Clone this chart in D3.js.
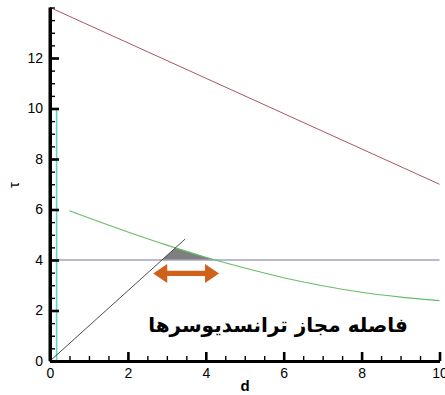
<!DOCTYPE html>
<html>
<head>
<meta charset="utf-8">
<script src="https://cdn.jsdelivr.net/npm/d3@7"></script>
<style>
  html, body { margin: 0; padding: 0; background: #fff; }
  svg { display: block; }
  .tick text { font-family: Arial, "Liberation Sans", sans-serif; }
</style>
</head>
<body>
<svg id="chart" width="445" height="395"></svg>
<script>
// Tick values
const xMajorTicks = [0, 2, 4, 6, 8, 10];
const yMajorTicks = [0, 2, 4, 6, 8, 10, 12];

// Upper limit line (linear decrease)
const upperLine = [[0, 14], [10, 7]];
// Decaying curve
const curveX = [0.5, 1, 2, 3, 4, 5, 6, 7, 8, 9, 10];
const curveY = [5.95, 5.66, 5.11, 4.59, 4.11, 3.68, 3.30, 2.98, 2.72, 2.53, 2.39];
// Threshold level
const threshold = 4;
// Rising line from origin
const risingLine = [[0, 0], [3.47, 4.83]];
// Vertical marker near the y axis
const markerX = 0.17;
const markerTop = 10;
// Double arrow span
const arrowSpan = [2.65, 4.34];
const arrowLevel = 3.47;
const caption = "فاصله مجاز ترانسدیوسرها";

const svg = d3.select("#chart");
const x = d3.scaleLinear().domain([0, 10]).range([50, 439.5]);
const y = d3.scaleLinear().domain([0, 14]).range([361, 7.5]);

const line = d3.line().x(d => x(d[0])).y(d => y(d[1]));
const curvePts = curveX.map((v, i) => [v, curveY[i]]);

// linear interpolation on the curve
function g(v) {
  for (let i = 0; i < curveX.length - 1; i++) {
    if (v >= curveX[i] && v <= curveX[i + 1]) {
      const t = (v - curveX[i]) / (curveX[i + 1] - curveX[i]);
      return curveY[i] + t * (curveY[i + 1] - curveY[i]);
    }
  }
  return curveY[curveY.length - 1];
}
function bisect(f, a, b) {
  for (let k = 0; k < 60; k++) {
    const m = (a + b) / 2;
    if (f(a) * f(m) <= 0) b = m; else a = m;
  }
  return (a + b) / 2;
}
const slope = risingLine[1][1] / risingLine[1][0];
const xi = bisect(v => slope * v - g(v), 1, risingLine[1][0]);
const xc = bisect(v => g(v) - threshold, 3, 6);
const xl = threshold / slope;

// shaded region between rising line, curve and threshold
const poly = [[xl, threshold], [xi, slope * xi]];
curveX.forEach((v, i) => { if (v > xi && v < xc) poly.push([v, curveY[i]]); });
poly.push([xc, threshold]);
svg.append("path")
  .attr("d", line(poly) + "Z")
  .attr("fill", "#7f7f7f");

// threshold line
svg.append("path")
  .attr("d", line([[0, threshold], [10, threshold]]))
  .attr("stroke", "#a6a2bd").attr("stroke-width", 1.6).attr("fill", "none");

// vertical marker
svg.append("path")
  .attr("d", line([[markerX, 0], [markerX, markerTop]]))
  .attr("stroke", "#5ed6cf").attr("stroke-width", 1.6).attr("fill", "none");

// upper line
svg.append("path")
  .attr("d", line(upperLine))
  .attr("stroke", "#ad5560").attr("stroke-width", 1).attr("fill", "none");

// decaying curve
svg.append("path")
  .attr("d", d3.line().x(d => x(d[0])).y(d => y(d[1])).curve(d3.curveMonotoneX)(curvePts))
  .attr("stroke", "#66bd6a").attr("stroke-width", 1.1).attr("fill", "none");

// rising line
svg.append("path")
  .attr("d", line(risingLine))
  .attr("stroke", "#3a3a3a").attr("stroke-width", 0.9).attr("fill", "none");

// double arrow
(function () {
  const x1 = x(arrowSpan[0]), x2 = x(arrowSpan[1]), yc = y(arrowLevel);
  const hw = 2.6, hh = 9.5, hl = 14;
  const p = [
    [x1, yc], [x1 + hl, yc - hh], [x1 + hl, yc - hw], [x2 - hl, yc - hw],
    [x2 - hl, yc - hh], [x2, yc], [x2 - hl, yc + hh], [x2 - hl, yc + hw],
    [x1 + hl, yc + hw], [x1 + hl, yc + hh]
  ];
  svg.append("path")
    .attr("d", "M" + p.map(q => q.join(",")).join("L") + "Z")
    .attr("fill", "#d0611b");
})();

// axes
function styleAxis(gSel, major) {
  gSel.select(".domain").attr("stroke", "#000").attr("stroke-width", 3);
  gSel.selectAll(".tick line").attr("stroke", "#000").attr("stroke-width", major ? 2.6 : 1.4);
  gSel.selectAll(".tick text").attr("font-size", 14).attr("fill", "#000");
}
const xMinor = svg.append("g").attr("transform", `translate(0,${y(0)})`)
  .call(d3.axisBottom(x).tickValues(d3.range(0, 10.01, 0.5)).tickSize(-5).tickSizeOuter(0).tickFormat(""));
styleAxis(xMinor, false);
const yMinor = svg.append("g").attr("transform", `translate(${x(0)},0)`)
  .call(d3.axisLeft(y).tickValues(d3.range(0, 14.01, 0.5)).tickSize(-5).tickSizeOuter(0).tickFormat(""));
styleAxis(yMinor, false);

const xAxis = svg.append("g").attr("transform", `translate(0,${y(0)})`)
  .call(d3.axisBottom(x).tickValues(xMajorTicks).tickSize(-9).tickSizeOuter(0).tickPadding(5).tickFormat(d3.format("d")));
styleAxis(xAxis, true);
const yAxis = svg.append("g").attr("transform", `translate(${x(0)},0)`)
  .call(d3.axisLeft(y).tickValues(yMajorTicks).tickSize(-9).tickSizeOuter(0).tickPadding(7).tickFormat(d3.format("d")));
styleAxis(yAxis, true);
xAxis.selectAll(".tick text").attr("dy", "0.95em").attr("y", 4);
yAxis.select(".domain").attr("d", `M0,${y(0)}V${y(14)}`);

// axis titles
svg.append("text")
  .attr("x", 245).attr("y", 391)
  .attr("text-anchor", "middle")
  .attr("font-family", "Arial, 'Liberation Sans', sans-serif")
  .attr("font-weight", "bold").attr("font-size", 15)
  .text("d");
svg.append("text")
  .attr("transform", "translate(19,185) rotate(-90)")
  .attr("text-anchor", "middle")
  .attr("font-family", "Arial, 'Liberation Sans', 'DejaVu Sans', sans-serif")
  .attr("font-size", 15)
  .text("τ");

// caption
svg.append("text")
  .attr("x", 278).attr("y", 332)
  .attr("text-anchor", "middle")
  .attr("direction", "rtl")
  .attr("font-family", "'DejaVu Sans', sans-serif")
  .attr("font-weight", "bold").attr("font-size", 20)
  .text(caption);
</script>
</body>
</html>
